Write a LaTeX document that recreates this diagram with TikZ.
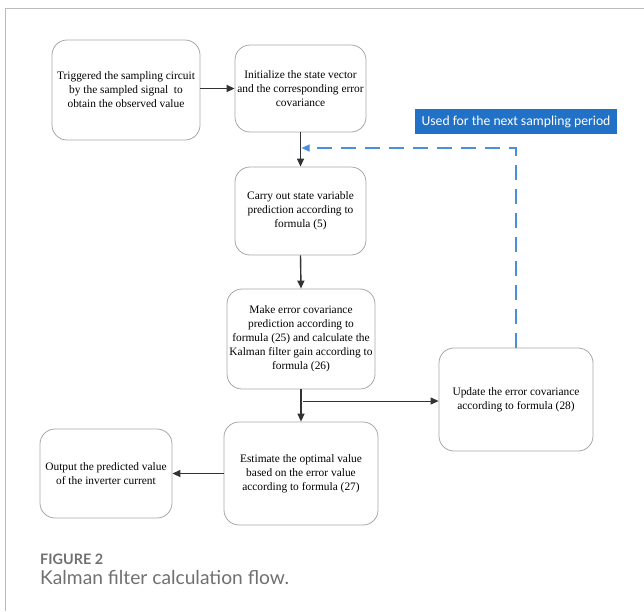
\documentclass[tikz,border=0pt]{standalone}
\usepackage{fontspec}
\setmainfont{Liberation Serif}
\newfontfamily\capfont{Lato}
\newfontfamily\labfont{Carlito}
\usetikzlibrary{arrows.meta,calc}
\definecolor{framegray}{HTML}{BBBBBB}
\definecolor{boxgray}{HTML}{A6A6A6}
\definecolor{labblue}{HTML}{2171C7}
\definecolor{dashblue}{HTML}{4A90D9}
\definecolor{capgray}{HTML}{707070}
\tikzset{
  flowbox/.style={draw=boxgray, line width=0.8pt, rounded corners=15pt, align=center,
    font=\fontsize{11.4}{14}\selectfont, inner xsep=0pt, inner ysep=2pt},
  flowarrow/.style={draw=black!80, line width=1.4pt, -{Triangle[length=8pt,width=7pt]}},
  fbarrow/.style={draw=dashblue, line width=1.4pt, dash pattern=on 15pt off 9pt,
    -{Triangle[length=8pt,width=7pt]}},
}
\begin{document}
\begin{tikzpicture}[x=1pt,y=-1pt]
\useasboundingbox (0,0) rectangle (644,611);
% frame
\draw[framegray, line width=0.8pt] (5,611) -- (5,8) -- (644,8);
% boxes
\node[flowbox, minimum width=148pt, minimum height=100pt] (b1) at (126,90)
  {Triggered the sampling circuit\\by the sampled signal\ \ to\\obtain the observed value};
\node[flowbox, minimum width=131pt, minimum height=87pt] (b2) at (300.5,88.5)
  {Initialize the state vector\\and the corresponding error\\covariance};
\node[flowbox, minimum width=131pt, minimum height=88pt] (b3) at (300.5,211)
  {Carry out state variable\\prediction according to\\formula (5)};
\node[flowbox, minimum width=148pt, minimum height=100pt] (b4) at (301,339)
  {Make error covariance\\prediction according to\\formula (25) and calculate the\\Kalman filter gain according to\\formula (26)};
\node[flowbox, minimum width=154pt, minimum height=103pt] (b5) at (301,473.5)
  {Estimate the optimal value\\based on the error value\\according to formula (27)};
\node[flowbox, minimum width=132pt, minimum height=89pt] (b6) at (106,473.5)
  {Output the predicted value\\of the inverter current};
\node[flowbox, minimum width=154pt, minimum height=103pt] (b7) at (516,399.5)
  {Update the error covariance\\according to formula (28)};
\node[fill=labblue, text=white, minimum width=202pt, minimum height=25pt, inner sep=0pt,
  font=\labfont\fontsize{13.7}{16}\selectfont] (lab) at (516,121.5) {Used for the next sampling period};
% connectors
\draw[flowarrow] (b1.east |- b2.west) -- (b2.west);
\draw[flowarrow] (b2.south) -- (b3.north);
\draw[flowarrow] (b3.south) -- (b4.north);
\draw[flowarrow] (b4.south) -- (b5.north);
\coordinate (split) at (303,401);
\draw[flowarrow, line width=1pt] (split) -- (b7.west |- split);
\draw[flowarrow] (b5.west) -- (b6.east);
\coordinate (fb) at ($(b2.south)!0.457!(b3.north)$);
\draw[fbarrow] (b7.north) |- ([xshift=1pt]fb);
% caption
\node[anchor=base west, inner sep=0pt, text=capgray, font=\capfont\bfseries\fontsize{14.4}{17}\selectfont] (cap1) at (40,564) {FIGURE 2};
\node[anchor=base west, inner sep=0pt, text=capgray, font=\capfont\fontsize{19.2}{22}\selectfont] (cap2) at (40,584) {Kalman filter calculation flow.};
\end{tikzpicture}
\end{document}
